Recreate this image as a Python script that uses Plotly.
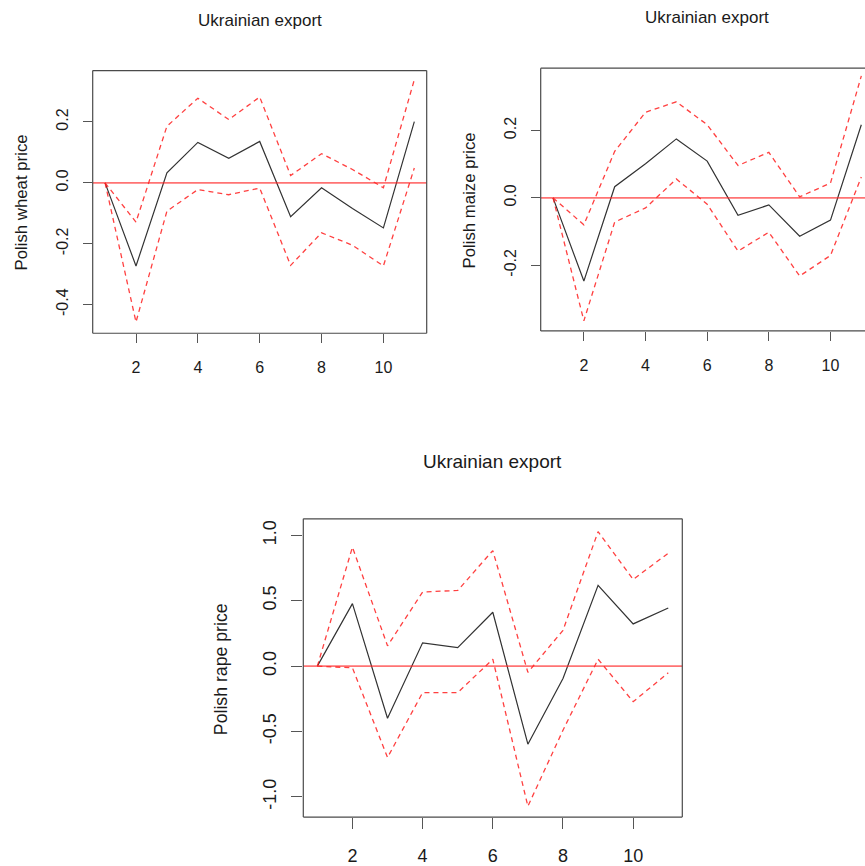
import plotly.graph_objects as go

horizon = list(range(1, 12))

wheat_irf = [0, -0.273, 0.033, 0.133, 0.081, 0.136, -0.111, -0.016, -0.084, -0.148, 0.201]
wheat_upper = [0, -0.129, 0.186, 0.278, 0.208, 0.282, 0.024, 0.096, 0.044, -0.016, 0.339]
wheat_lower = [0, -0.457, -0.093, -0.022, -0.039, -0.017, -0.271, -0.164, -0.205, -0.273, 0.049]

maize_irf = [0, -0.247, 0.033, 0.101, 0.175, 0.109, -0.052, -0.021, -0.114, -0.066, 0.217]
maize_upper = [0, -0.080, 0.138, 0.254, 0.285, 0.217, 0.096, 0.135, 0.003, 0.044, 0.362]
maize_lower = [0, -0.365, -0.072, -0.030, 0.056, -0.019, -0.158, -0.102, -0.232, -0.171, 0.062]

rape_irf = [0, 0.478, -0.399, 0.178, 0.142, 0.412, -0.597, -0.094, 0.618, 0.323, 0.445]
rape_upper = [0, 0.910, 0.155, 0.567, 0.579, 0.884, -0.048, 0.274, 1.029, 0.663, 0.864]
rape_lower = [0, -0.013, -0.699, -0.203, -0.203, 0.053, -1.072, -0.490, 0.053, -0.272, -0.051]

titles = ["Ukrainian export", "Ukrainian export", "Ukrainian export"]
ylabels = ["Polish wheat price", "Polish maize price", "Polish rape price"]
x_ticks = [2, 4, 6, 8, 10]
y_ticks = [[-0.4, -0.2, 0.0, 0.2], [-0.2, 0.0, 0.2], [-1.0, -0.5, 0.0, 0.5, 1.0]]
y_ticktext = [["-0.4", "-0.2", "0.0", "0.2"], ["-0.2", "0.0", "0.2"], ["-1.0", "-0.5", "0.0", "0.5", "1.0"]]

W, H = 865, 866
FONT = "Liberation Sans, Arial, sans-serif"

# panel geometry in pixels: left, right, top, bottom
panels = [
    dict(l=92.7, r=426.7, t=70.7, b=334.0, xr=[0.6, 11.4], yr=[-0.494, 0.369],
         tick=16, lab=16.8, tit=17, ticklen=9, box_right=True,
         title_xy=(259.7, 21), ylab_xy=(22, 203), data=(wheat_irf, wheat_upper, wheat_lower)),
    dict(l=540.7, r=865.0, t=68.3, b=331.7, xr=[0.6, 0.6 + (865 - 540.7) / 30.83], yr=[-0.395, 0.385],
         tick=16, lab=16.8, tit=17, ticklen=9, box_right=False,
         title_xy=(706.7, 18), ylab_xy=(470, 201), data=(maize_irf, maize_upper, maize_lower)),
    dict(l=303.3, r=682.3, t=520.0, b=819.0, xr=[0.6, 11.4], yr=[-1.155, 1.127],
         tick=18, lab=17.7, tit=19, ticklen=11, box_right=True,
         title_xy=(492.3, 463), ylab_xy=(221.7, 671), data=(rape_irf, rape_upper, rape_lower)),
]

fig = go.Figure()
layout = dict(width=W, height=H, margin=dict(l=0, r=0, t=0, b=0),
              paper_bgcolor="white", plot_bgcolor="white", showlegend=False,
              font=dict(family=FONT, color="#1a1a1a"))
shapes = []
annotations = []

for i, p in enumerate(panels):
    n = "" if i == 0 else str(i + 1)
    xa, ya = "x" + n, "y" + n
    irf, up, lo = p["data"]
    fig.add_trace(go.Scatter(x=horizon, y=irf, mode="lines", xaxis=xa, yaxis=ya,
                             line=dict(color="#333333", width=1.2)))
    for band in (up, lo):
        fig.add_trace(go.Scatter(x=horizon, y=band, mode="lines", xaxis=xa, yaxis=ya,
                                 line=dict(color="rgba(255,30,30,0.85)", width=1.3, dash="5px,4px")))
    layout["xaxis" + n] = dict(
        domain=[p["l"] / W, p["r"] / W], range=p["xr"], anchor=ya,
        tickvals=x_ticks, ticks="outside", ticklen=p["ticklen"], tickcolor="#555555", tickwidth=1.2,
        showgrid=False, zeroline=False, showline=False,
        tickfont=dict(size=p["tick"], family=FONT, color="#1a1a1a"), ticklabelstandoff=11)
    layout["yaxis" + n] = dict(
        domain=[1 - p["b"] / H, 1 - p["t"] / H], range=p["yr"], anchor=xa,
        tickvals=y_ticks[i], ticktext=y_ticktext[i], ticks="outside", ticklen=p["ticklen"],
        tickcolor="#555555", tickwidth=1.2, tickangle=-90,
        showgrid=False, zeroline=False, showline=False,
        tickfont=dict(size=p["tick"], family=FONT, color="#1a1a1a"), ticklabelstandoff=8)
    # zero reference line
    shapes.append(dict(type="line", xref=xa + " domain", yref=ya, x0=0, x1=1, y0=0, y1=0,
                       line=dict(color="rgba(255,40,40,0.65)", width=1.7), layer="above"))
    # box
    bc = dict(color="#4a4a4a", width=1.2)
    shapes.append(dict(type="line", xref=xa + " domain", yref=ya + " domain", x0=0, x1=1, y0=1, y1=1, line=bc))
    shapes.append(dict(type="line", xref=xa + " domain", yref=ya + " domain", x0=0, x1=1, y0=0, y1=0, line=bc))
    shapes.append(dict(type="line", xref=xa + " domain", yref=ya + " domain", x0=0, x1=0, y0=0, y1=1, line=bc))
    if p["box_right"]:
        shapes.append(dict(type="line", xref=xa + " domain", yref=ya + " domain", x0=1, x1=1, y0=0, y1=1, line=bc))
    tx, ty = p["title_xy"]
    annotations.append(dict(text=titles[i], x=tx / W, y=1 - ty / H, xref="paper", yref="paper",
                            xanchor="center", yanchor="middle", showarrow=False,
                            font=dict(size=p["tit"], family=FONT, color="#1a1a1a")))
    lx, ly = p["ylab_xy"]
    annotations.append(dict(text=ylabels[i], x=lx / W, y=1 - ly / H, xref="paper", yref="paper",
                            xanchor="center", yanchor="middle", showarrow=False, textangle=-90,
                            font=dict(size=p["lab"], family=FONT, color="#1a1a1a")))

layout["shapes"] = shapes
layout["annotations"] = annotations
fig.update_layout(**layout)
fig.write_html("out.html")
